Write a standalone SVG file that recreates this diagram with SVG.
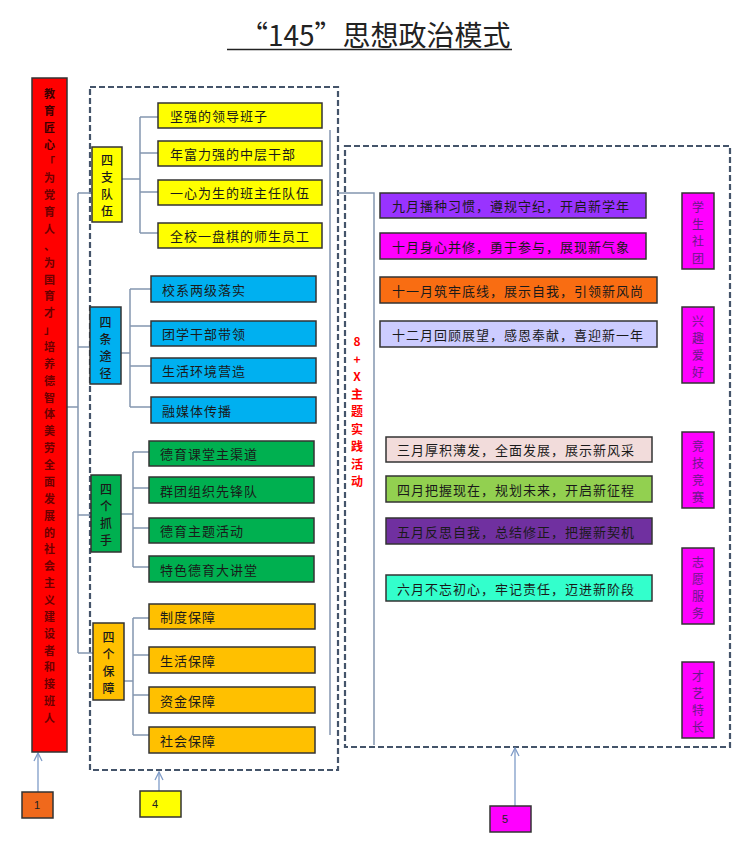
<svg xmlns="http://www.w3.org/2000/svg" width="741" height="843" viewBox="0 0 741 843">
<defs>
<marker id="arr" viewBox="0 0 10 10" refX="9" refY="5" markerWidth="10" markerHeight="10" markerUnits="userSpaceOnUse" orient="auto"><path d="M1,1 L9,5 L1,9" fill="none" stroke="#7f9cc8" stroke-width="1.3"/></marker>
<style>
.t{font-family:"Noto Sans CJK SC","Noto Sans",sans-serif;}
.box{stroke:#333;stroke-width:1.5}
.dash{fill:none;stroke:#44546a;stroke-width:2.2;stroke-dasharray:6 3}
.ln{fill:none;stroke:#8496b0;stroke-width:1.5}
.ar{fill:none;stroke:#7f9cc8;stroke-width:1.3;marker-end:url(#arr)}
.it{font-size:13px;letter-spacing:1px;fill:#1a1a1a;dominant-baseline:central}
.vt{font-size:12px;font-weight:500;fill:#1a1a1a;text-anchor:middle;dominant-baseline:central}
.rv{font-size:11px;font-weight:bold;fill:#6b0000;text-anchor:middle;dominant-baseline:central}
.mv{font-size:12px;fill:#6a1a8a;text-anchor:middle;dominant-baseline:central}
.num{font-size:11px;fill:#222;text-anchor:middle;dominant-baseline:central;font-family:"Liberation Sans",sans-serif}
</style>
</defs>
<rect width="741" height="843" fill="#ffffff"/>

<g id="title">
<text class="t" x="240" y="46" font-size="28" fill="#222">“145”思想政治模式</text>
<line x1="227" y1="49.5" x2="512" y2="49.5" stroke="#222" stroke-width="1.6"/>
</g>

<g id="containers">
<rect class="dash" x="90" y="87" width="248" height="683"/>
<rect class="dash" x="345" y="146" width="385" height="601"/>
</g>

<g id="connectors">
<path class="ln" d="M67,407 H78 M78,193 V653 M78,193 H92 M78,347 H90 M78,515 H91 M78,653 H93"/>
<path class="ln" d="M122,179 H140 M140,117 V233 M140,117 H158 M140,153 H158 M140,192 H158 M140,233 H158"/>
<path class="ln" d="M121,353 H130 M130,289 V407 M130,289 H151 M130,326 H151 M130,366 H151 M130,407 H151"/>
<path class="ln" d="M121,514 H133 M133,452 V567 M133,452 H149 M133,488 H149 M133,528 H149 M133,567 H149"/>
<path class="ln" d="M124,681 H133 M133,618 V735 M133,618 H149 M133,655 H149 M133,695 H149 M133,735 H149"/>
<path class="ln" d="M330,130 V735"/>
<path class="ln" d="M338,193 H374 V745" stroke="#6a7a90"/>
<path class="ar" d="M38,792 V753"/>
<path class="ar" d="M159,791 V772"/>
<path class="ar" d="M515,806 V748"/>
</g>

<g id="red-bar">
<rect class="box" x="32" y="78" width="35" height="674" fill="#ff0000"/>
<text class="t rv"><tspan x="49.5" y="93" fill="#3a0000">教</tspan><tspan x="49.5" y="109.9" fill="#3a0000">育</tspan><tspan x="49.5" y="126.7" fill="#3a0000">匠</tspan><tspan x="49.5" y="143.6" fill="#3a0000">心</tspan><tspan x="49.5" y="160.5">「</tspan><tspan x="49.5" y="177.3">为</tspan><tspan x="49.5" y="194.2">党</tspan><tspan x="49.5" y="211.1">育</tspan><tspan x="49.5" y="227.9">人</tspan><tspan x="49.5" y="244.8">、</tspan><tspan x="49.5" y="261.7">为</tspan><tspan x="49.5" y="278.5">国</tspan><tspan x="49.5" y="295.4">育</tspan><tspan x="49.5" y="312.2">才</tspan><tspan x="49.5" y="329.1">」</tspan><tspan x="49.5" y="346">培</tspan><tspan x="49.5" y="362.8">养</tspan><tspan x="49.5" y="379.7">德</tspan><tspan x="49.5" y="396.6">智</tspan><tspan x="49.5" y="413.4">体</tspan><tspan x="49.5" y="430.3">美</tspan><tspan x="49.5" y="447.2">劳</tspan><tspan x="49.5" y="464">全</tspan><tspan x="49.5" y="480.9">面</tspan><tspan x="49.5" y="497.8">发</tspan><tspan x="49.5" y="514.6">展</tspan><tspan x="49.5" y="531.5">的</tspan><tspan x="49.5" y="548.4">社</tspan><tspan x="49.5" y="565.2">会</tspan><tspan x="49.5" y="582.1">主</tspan><tspan x="49.5" y="598.9">义</tspan><tspan x="49.5" y="615.8">建</tspan><tspan x="49.5" y="632.7">设</tspan><tspan x="49.5" y="649.5">者</tspan><tspan x="49.5" y="666.4">和</tspan><tspan x="49.5" y="683.3">接</tspan><tspan x="49.5" y="700.1">班</tspan><tspan x="49.5" y="717">人</tspan></text>
</g>

<g id="g-sizhi">
<rect class="box" x="92" y="147" width="30" height="75" fill="#ffff00"/>
<text class="t vt"><tspan x="107" y="159">四</tspan><tspan x="107" y="176">支</tspan><tspan x="107" y="193">队</tspan><tspan x="107" y="210">伍</tspan></text>
</g>
<g id="i-y1"><rect class="box" x="158" y="103" width="164" height="25" fill="#ffff00"/><text class="t it" x="170" y="115.5">坚强的领导班子</text></g>
<g id="i-y2"><rect class="box" x="158" y="141" width="164" height="25" fill="#ffff00"/><text class="t it" x="170" y="153.5">年富力强的中层干部</text></g>
<g id="i-y3"><rect class="box" x="158" y="180" width="164" height="25" fill="#ffff00"/><text class="t it" x="170" y="192.5">一心为生的班主任队伍</text></g>
<g id="i-y4"><rect class="box" x="158" y="223" width="164" height="25" fill="#ffff00"/><text class="t it" x="170" y="235.5">全校一盘棋的师生员工</text></g>

<g id="g-sitiao">
<rect class="box" x="90" y="307" width="31" height="77" fill="#00b0f0"/>
<text class="t vt"><tspan x="105.5" y="320.5">四</tspan><tspan x="105.5" y="337.5">条</tspan><tspan x="105.5" y="354.5">途</tspan><tspan x="105.5" y="371.5">径</tspan></text>
</g>
<g id="i-b1"><rect class="box" x="151" y="276" width="165" height="26" fill="#00b0f0"/><text class="t it" x="162" y="289">校系两级落实</text></g>
<g id="i-b2"><rect class="box" x="151" y="321" width="165" height="25" fill="#00b0f0"/><text class="t it" x="162" y="333.5">团学干部带领</text></g>
<g id="i-b3"><rect class="box" x="151" y="358" width="165" height="25" fill="#00b0f0"/><text class="t it" x="162" y="370.5">生活环境营造</text></g>
<g id="i-b4"><rect class="box" x="151" y="397" width="165" height="26" fill="#00b0f0"/><text class="t it" x="162" y="410">融媒体传播</text></g>

<g id="g-sige">
<rect class="box" x="91" y="475" width="30" height="77" fill="#00b050"/>
<text class="t vt"><tspan x="106" y="488">四</tspan><tspan x="106" y="505">个</tspan><tspan x="106" y="522">抓</tspan><tspan x="106" y="539">手</tspan></text>
</g>
<g id="i-g1"><rect class="box" x="149" y="441" width="165" height="25" fill="#00b050"/><text class="t it" x="160" y="453.5">德育课堂主渠道</text></g>
<g id="i-g2"><rect class="box" x="149" y="477" width="165" height="26" fill="#00b050"/><text class="t it" x="160" y="490">群团组织先锋队</text></g>
<g id="i-g3"><rect class="box" x="149" y="518" width="165" height="25" fill="#00b050"/><text class="t it" x="160" y="530.5">德育主题活动</text></g>
<g id="i-g4"><rect class="box" x="149" y="556" width="165" height="26" fill="#00b050"/><text class="t it" x="160" y="569">特色德育大讲堂</text></g>

<g id="g-baozhang">
<rect class="box" x="93" y="623" width="31" height="77" fill="#ffc000"/>
<text class="t vt"><tspan x="108.5" y="636">四</tspan><tspan x="108.5" y="653">个</tspan><tspan x="108.5" y="670">保</tspan><tspan x="108.5" y="687">障</tspan></text>
</g>
<g id="i-o1"><rect class="box" x="149" y="604" width="166" height="25" fill="#ffc000"/><text class="t it" x="160" y="616.5">制度保障</text></g>
<g id="i-o2"><rect class="box" x="149" y="647" width="166" height="26" fill="#ffc000"/><text class="t it" x="160" y="660">生活保障</text></g>
<g id="i-o3"><rect class="box" x="149" y="687" width="166" height="26" fill="#ffc000"/><text class="t it" x="160" y="700">资金保障</text></g>
<g id="i-o4"><rect class="box" x="149" y="727" width="166" height="26" fill="#ffc000"/><text class="t it" x="160" y="740">社会保障</text></g>

<g id="theme-label">
<text class="t" font-size="12" font-weight="bold" fill="#ff0000" text-anchor="middle" dominant-baseline="central"><tspan x="357" y="340">8</tspan><tspan x="357" y="357.5">+</tspan><tspan x="357" y="375">X</tspan><tspan x="357" y="392.5">主</tspan><tspan x="357" y="410">题</tspan><tspan x="357" y="427.5">实</tspan><tspan x="357" y="445">践</tspan><tspan x="357" y="462.5">活</tspan><tspan x="357" y="480">动</tspan></text>
</g>

<g id="m-sep"><rect class="box" x="380" y="193" width="266" height="25" fill="#9933ff"/><text class="t it" x="392" y="205.5">九月播种习惯，遵规守纪，开启新学年</text></g>
<g id="m-oct"><rect class="box" x="380" y="233" width="266" height="26" fill="#ff00ff"/><text class="t it" x="392" y="246" fill="#4a004a">十月身心并修，勇于参与，展现新气象</text></g>
<g id="m-nov"><rect class="box" x="380" y="277" width="277" height="26" fill="#f96d12"/><text class="t it" x="392" y="290">十一月筑牢底线，展示自我，引领新风尚</text></g>
<g id="m-dec"><rect class="box" x="380" y="321" width="277" height="26" fill="#ccccff"/><text class="t it" x="392" y="334" fill="#333">十二月回顾展望，感恩奉献，喜迎新一年</text></g>
<g id="m-mar"><rect class="box" x="386" y="437" width="266" height="25" fill="#f2dcdb"/><text class="t it" x="397" y="449.5" fill="#333">三月厚积薄发，全面发展，展示新风采</text></g>
<g id="m-apr"><rect class="box" x="386" y="476" width="266" height="26" fill="#92d050"/><text class="t it" x="397" y="489">四月把握现在，规划未来，开启新征程</text></g>
<g id="m-may"><rect class="box" x="386" y="518" width="266" height="26" fill="#7030a0"/><text class="t it" x="397" y="531" fill="#2a0840">五月反思自我，总结修正，把握新契机</text></g>
<g id="m-jun"><rect class="box" x="386" y="575" width="266" height="26" fill="#33ffcc"/><text class="t it" x="397" y="588">六月不忘初心，牢记责任，迈进新阶段</text></g>

<g id="c-shetuan"><rect class="box" x="682" y="193" width="32" height="76" fill="#ff00ff"/><text class="t mv"><tspan x="698" y="205.5">学</tspan><tspan x="698" y="222.5">生</tspan><tspan x="698" y="239.5">社</tspan><tspan x="698" y="256.5">团</tspan></text></g>
<g id="c-xingqu"><rect class="box" x="682" y="307" width="32" height="76" fill="#ff00ff"/><text class="t mv"><tspan x="698" y="319.5">兴</tspan><tspan x="698" y="336.5">趣</tspan><tspan x="698" y="353.5">爱</tspan><tspan x="698" y="370.5">好</tspan></text></g>
<g id="c-jingji"><rect class="box" x="682" y="432" width="32" height="76" fill="#ff00ff"/><text class="t mv"><tspan x="698" y="444.5">竞</tspan><tspan x="698" y="461.5">技</tspan><tspan x="698" y="478.5">竞</tspan><tspan x="698" y="495.5">赛</tspan></text></g>
<g id="c-zhiyuan"><rect class="box" x="682" y="548" width="32" height="76" fill="#ff00ff"/><text class="t mv"><tspan x="698" y="560.5">志</tspan><tspan x="698" y="577.5">愿</tspan><tspan x="698" y="594.5">服</tspan><tspan x="698" y="611.5">务</tspan></text></g>
<g id="c-caiyi"><rect class="box" x="682" y="662" width="32" height="76" fill="#ff00ff"/><text class="t mv"><tspan x="698" y="674.5">才</tspan><tspan x="698" y="691.5">艺</tspan><tspan x="698" y="708.5">特</tspan><tspan x="698" y="725.5">长</tspan></text></g>

<g id="n1"><rect class="box" x="22" y="792" width="31" height="26" fill="#f0691c"/><text class="num" x="37" y="805">1</text></g>
<g id="n4"><rect class="box" x="140" y="791" width="41" height="26" fill="#ffff00"/><text class="num" x="155" y="804">4</text></g>
<g id="n5"><rect class="box" x="490" y="806" width="41" height="26" fill="#ff00ff"/><text class="num" x="505" y="819" fill="#6a1a8a">5</text></g>
</svg>
